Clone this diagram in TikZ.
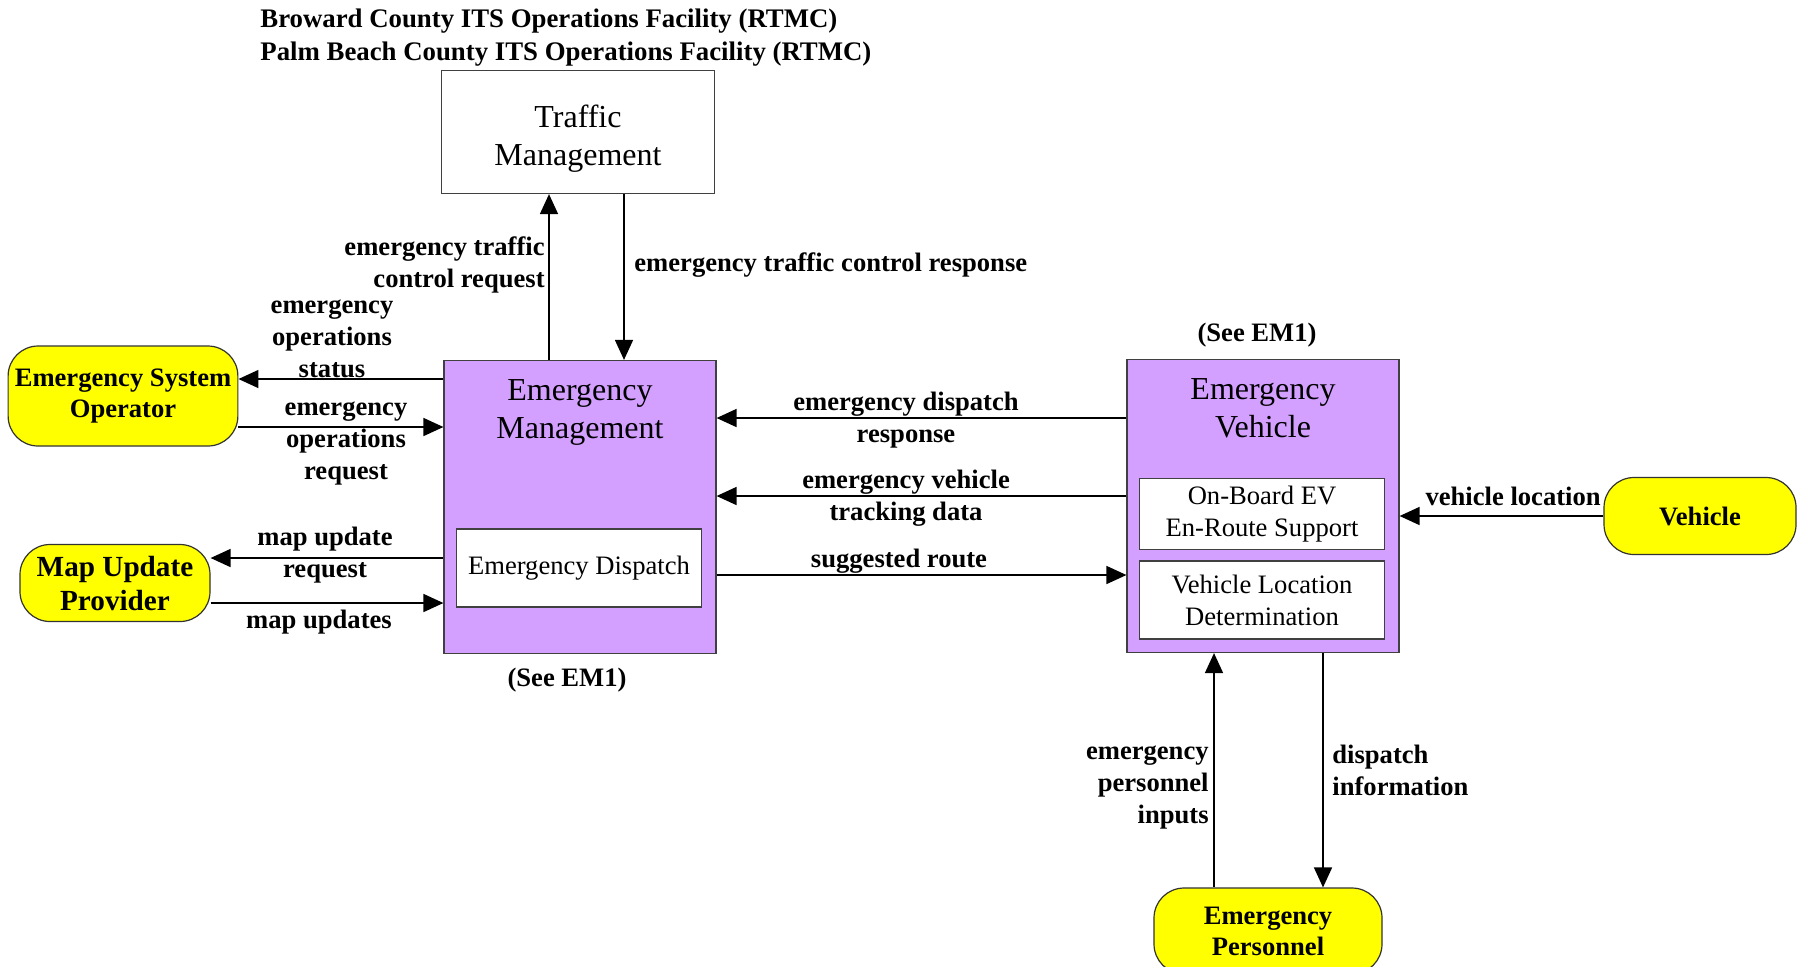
\documentclass[tikz,border=0pt]{standalone}
\usepackage{fontspec}
\setmainfont{Liberation Serif}
\usetikzlibrary{arrows.meta,positioning}

\definecolor{empurple}{RGB}{212,160,255}
\definecolor{termyellow}{RGB}{255,255,0}

\tikzset{
  box/.style={draw=black!75,line width=0.6pt,minimum width=136pt,align=center,
    font=\fontsize{16}{19}\selectfont},
  boxtitle/.style={align=center,font=\fontsize{16}{19}\selectfont},
  subbox/.style={draw=black!75,fill=white,line width=0.6pt,minimum width=122.5pt,
    align=center,font=\fontsize{13.3}{16}\selectfont},
  term/.style={draw=black!80,fill=termyellow,rounded corners=15pt,line width=0.6pt,
    align=center,font=\bfseries\fontsize{13.3}{15.5}\selectfont},
  lbl/.style={align=center,inner sep=1pt,font=\bfseries\fontsize{13.3}{16}\selectfont},
  flow/.style={->,line width=0.8pt,black}
}

\begin{document}
\begin{tikzpicture}[x=0.5pt,y=-0.5pt,>={Triangle[length=10pt,width=9pt]},line join=miter]
  \useasboundingbox (0,0) rectangle (1802,966);

  % header
  \node[lbl,align=left,anchor=west,font=\bfseries\fontsize{13.4}{16.5}\selectfont] (hdr) at (258,38)
    {Broward County ITS Operations Facility (RTMC)\\Palm Beach County ITS Operations Facility (RTMC)};

  % centres
  \node[box,minimum width=136.5pt,minimum height=61.5pt] (tm) at (578,132) {};
  \node[boxtitle,yshift=-3.5pt] (tmt) at (tm.center) {Traffic\\Management};
  \node[box,fill=empurple,minimum height=146.5pt] (em) at (580,507) {};
  \node[boxtitle,below=6.5pt of em.north] (emt) {Emergency\\Management};
  \node[subbox,minimum height=39pt] (disp) at (579,568) {Emergency Dispatch};

  \node[box,fill=empurple,minimum height=146.5pt] (ev) at (1263,506) {};
  \node[boxtitle,below=6.5pt of ev.north] (evt) {Emergency\\Vehicle};
  \node[subbox,minimum height=35.5pt] (onboard) at (1262,514) {On-Board EV\\En-Route Support};
  \node[subbox,minimum height=39pt] (vld) at (1262,600) {Vehicle Location\\Determination};

  % terminators
  \node[term,minimum width=113.5pt,minimum height=50pt] (eso) at (123,396) {Emergency System\\Operator};
  \node[term,minimum width=95pt,minimum height=38.5pt,font=\bfseries\fontsize{14.6}{17}\selectfont] (mup) at (115,583) {Map Update\\Provider};
  \node[term,minimum width=96pt,minimum height=38.5pt] (veh) at (1700,516) {Vehicle};
  \node[term,minimum width=114pt,minimum height=43pt] (ep) at (1268,931) {Emergency\\Personnel};

  \node[lbl] (seeem) at (567,680) {(See EM1)};
  \node[lbl] (seeev) at (1257,335) {(See EM1)};

  % flows
  \draw[flow] (em.north -| 549,0) -- (tm.south -| 549,0);
  \draw[flow] (tm.south -| 624,0) -- (em.north -| 624,0);
  \draw[flow] (em.west |- 0,379) -- (eso.east |- 0,379);
  \draw[flow] (eso.east |- 0,427) -- (em.west |- 0,427);
  \draw[flow] (em.west |- 0,558) -- (mup.east |- 0,558);
  \draw[flow] (mup.east |- 0,603) -- (em.west |- 0,603);
  \draw[flow] (ev.west |- 0,418) -- (em.east |- 0,418);
  \draw[flow] (ev.west |- 0,496) -- (em.east |- 0,496);
  \draw[flow] (em.east |- 0,575) -- (ev.west |- 0,575);
  \draw[flow] (veh.west |- 0,516) -- (ev.east |- 0,516);
  \draw[flow] (ep.north -| 1214,0) -- (ev.south -| 1214,0);
  \draw[flow] (ev.south -| 1323,0) -- (ep.north -| 1323,0);

  % flow labels
  \node[lbl,align=right,anchor=east] (etcreq) at (547,265) {emergency traffic\\control request};
  \node[lbl,anchor=west] (etcresp) at (632,265) {emergency traffic control response};
  \node[lbl] (eostat) at (332,339) {emergency\\operations\\status};
  \node[lbl] (eoreq) at (346,443) {emergency\\operations\\request};
  \node[lbl] (mureq) at (325,555) {map update\\request};
  \node[lbl] (mupd) at (319,622) {map updates};
  \node[lbl] (edresp) at (906,420) {emergency dispatch\\response};
  \node[lbl] (evtrack) at (906,498) {emergency vehicle\\tracking data};
  \node[lbl] (sroute) at (899,561) {suggested route};
  \node[lbl,anchor=east] (vloc) at (1603,496) {vehicle location};
  \node[lbl,align=right,anchor=east] (epin) at (1211,787) {emergency\\personnel\\inputs};
  \node[lbl,align=left,anchor=west] (dinfo) at (1330,770) {dispatch\\information};
\end{tikzpicture}
\end{document}
